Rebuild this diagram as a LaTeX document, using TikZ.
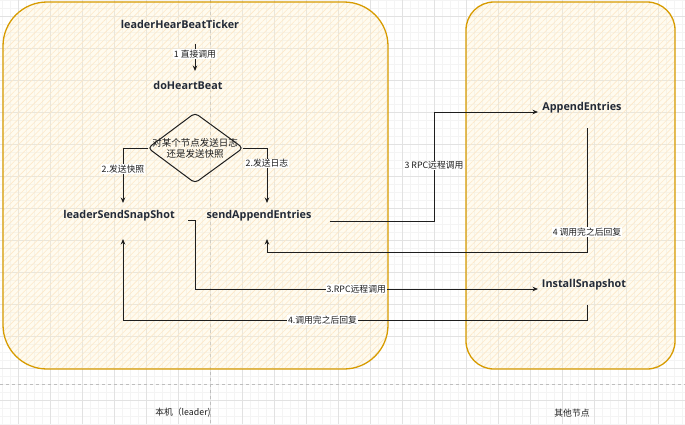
\documentclass[tikz,border=0pt]{standalone}
\usepackage{fontspec}
\setmainfont{Open Sans}
\newfontfamily\cjk{Noto Sans CJK SC}
\usetikzlibrary{arrows.meta,patterns.meta}
\definecolor{gridminor}{RGB}{244,244,244}
\definecolor{gridmajor}{RGB}{226,226,226}
\definecolor{cborder}{RGB}{215,155,0}
\definecolor{cfill}{RGB}{255,242,204}
\definecolor{chatch}{RGB}{253,232,200}
\definecolor{ink}{RGB}{30,30,30}
\definecolor{txt}{RGB}{35,42,55}
\definecolor{pagebrk}{RGB}{190,190,190}
\tikzset{
  fn/.style={font=\bfseries\fontsize{10.8}{12}\selectfont, text=txt, inner sep=1pt},
  lbl/.style={font=\cjk\fontsize{8.8}{10}\selectfont, text=ink, fill=white, inner sep=0.8pt},
  plain/.style={font=\cjk\fontsize{8.8}{10}\selectfont, text=ink, inner sep=1pt},
  dtext/.style={font=\cjk\fontsize{9.5}{11}\selectfont, text=ink, align=center, inner sep=0pt},
  arr/.style={draw=ink, line width=1pt, -{Stealth[length=5.5pt,width=4.5pt]}},
  container/.style={draw=cborder, line width=1.3pt,
    preaction={fill=cfill, fill opacity=0.3},
    pattern={Lines[angle=45,distance=4.5pt,line width=0.6pt]}, pattern color=chatch},
}
\begin{document}
\begin{tikzpicture}[x=1pt,y=-1pt]
\useasboundingbox (0,0) rectangle (685,424);
\fill[white] (0,0) rectangle (685,424);
% grid
\foreach \x in {2,10,...,682} \draw[gridminor,line width=0.5pt] (\x,0) -- (\x,424);
\foreach \y in {0,8,...,424} \draw[gridminor,line width=0.5pt] (0,\y) -- (685,\y);
\foreach \x in {18,50,...,658} \draw[gridmajor,line width=0.6pt] (\x,0) -- (\x,424);
\foreach \y in {16,48,...,400} \draw[gridmajor,line width=0.6pt] (0,\y) -- (685,\y);
% page breaks
\draw[pagebrk,line width=0.6pt,dash pattern=on 3pt off 3pt] (0,384) -- (685,384);
\draw[pagebrk,line width=0.6pt,dash pattern=on 3pt off 3pt] (210,0) -- (210,424);
% containers
\draw[container, rounded corners=44pt] (3,2) rectangle (388,369);
\draw[container, rounded corners=28pt] (466,2) rectangle (675,369);
% nodes
\node[fn] (ticker) at (180,24) {leaderHearBeatTicker};
\node[fn] (dohb) at (188,85) {doHeartBeat};
\node[dtext] (dia) at (195,148) {对某个节点发送日志\\还是发送快照};
\draw[ink, line width=1pt, rounded corners=4pt]
  (148,148) -- (195,113) -- (243,148) -- (195,183) -- cycle;
\node[fn] (lss) at (119,216) {leaderSendSnapShot};
\node[fn] (sae) at (259,216) {sendAppendEntries};
\node[fn] (ae) at (582,108) {AppendEntries};
\node[fn] (is) at (584,285) {InstallSnapshot};
\node[plain] (local) at (183,413) {本机（leader)};
\node[plain] (other) at (572,413) {其他节点};
% anchor coordinates
\coordinate (t1) at (195,44);
\coordinate (h1) at (195,71);
\coordinate (dw) at (148,148);
\coordinate (de) at (243,148);
\coordinate (lssin) at (123,203);
\coordinate (saein) at (267,203);
\coordinate (saeout) at (330,221);
\coordinate (aein) at (538,112);
\coordinate (aeout) at (587,128);
\coordinate (saeret) at (267,239);
\coordinate (lssout) at (188,220);
\coordinate (isin) at (538,289);
\coordinate (isout) at (587,305);
\coordinate (lssret) at (123,239);
% connectors
\draw[arr] (t1) -- node[lbl, pos=0.38]{1 直接调用} (h1);
\draw[arr] (dw) -| node[lbl, pos=0.69]{2.发送快照} (lssin);
\draw[arr] (de) -| node[lbl, pos=0.64]{2.发送日志} (saein);
\draw[arr] (saeout) -- (434,221) -- node[lbl, pos=0.51]{3 RPC远程调用} (434,112) -- (aein);
\draw[arr] (aeout) -- node[lbl, pos=0.84]{4 调用完之后回复} (587,252) -- (267,252) -- (saeret);
\draw[arr] (lssout) -- (195,220) -- (195,289) -- node[lbl, pos=0.47]{3.RPC远程调用} (isin);
\draw[arr] (isout) -- (587,320) -- node[lbl, pos=0.57]{4.调用完之后回复} (123,320) -- (lssret);
\end{tikzpicture}
\end{document}
